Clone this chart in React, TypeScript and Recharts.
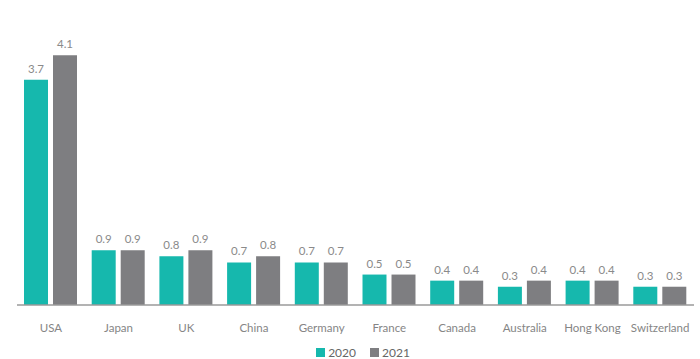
import { BarChart, Bar, XAxis, YAxis, LabelList } from 'recharts';

const countries = ['USA', 'Japan', 'UK', 'China', 'Germany', 'France', 'Canada', 'Australia', 'Hong Kong', 'Switzerland'];
const values2020 = [3.7, 0.9, 0.8, 0.7, 0.7, 0.5, 0.4, 0.3, 0.4, 0.3];
const values2021 = [4.1, 0.9, 0.9, 0.8, 0.7, 0.5, 0.4, 0.4, 0.4, 0.3];

const TEAL = '#16b8ad';
const GREY = '#7e7e81';
const FONT = 'Lato, "Open Sans", "DejaVu Sans", sans-serif';

const data = countries.map((name, i) => ({
  name,
  y2020: values2020[i],
  y2021: values2021[i],
}));

const fmt = (v: unknown) => Number(v).toFixed(1);

export default function App() {
  return (
    <div style={{ position: 'absolute', left: 0, top: 0, width: 700, height: 359, background: '#fff', fontFamily: FONT }}>
      <BarChart
        width={700}
        height={359}
        data={data}
        margin={{ top: 31, right: 6, bottom: 24, left: 17 }}
        barSize={24}
        barGap={5}
      >
        <XAxis
          dataKey="name"
          height={30}
          tickLine={false}
          axisLine={{ stroke: '#9a9a9a', strokeWidth: 1.5 }}
          tickMargin={13}
          interval={0}
          tick={{ fontSize: 11.5, fill: '#858585', fontFamily: FONT }}
        />
        <YAxis hide domain={[0, 4.5]} />
        <Bar dataKey="y2020" fill={TEAL} isAnimationActive={false}>
          <LabelList dataKey="y2020" position="top" offset={7} formatter={fmt} style={{ fontSize: 11.5, fill: '#8a8a8a', fontFamily: FONT }} />
        </Bar>
        <Bar dataKey="y2021" fill={GREY} isAnimationActive={false}>
          <LabelList dataKey="y2021" position="top" offset={7} formatter={fmt} style={{ fontSize: 11.5, fill: '#8a8a8a', fontFamily: FONT }} />
        </Bar>
      </BarChart>
      <div
        style={{
          position: 'absolute',
          top: 345,
          left: 0,
          width: 700,
          display: 'flex',
          justifyContent: 'center',
          gap: 14,
          fontSize: 12,
          color: '#666',
          lineHeight: '15px',
          paddingLeft: 26,
          boxSizing: 'border-box',
        }}
      >
        {[
          { label: '2020', color: TEAL },
          { label: '2021', color: GREY },
        ].map((s) => (
          <span key={s.label} style={{ display: 'flex', alignItems: 'center', gap: 3 }}>
            <span style={{ width: 9, height: 9, background: s.color, display: 'inline-block' }} />
            {s.label}
          </span>
        ))}
      </div>
    </div>
  );
}
